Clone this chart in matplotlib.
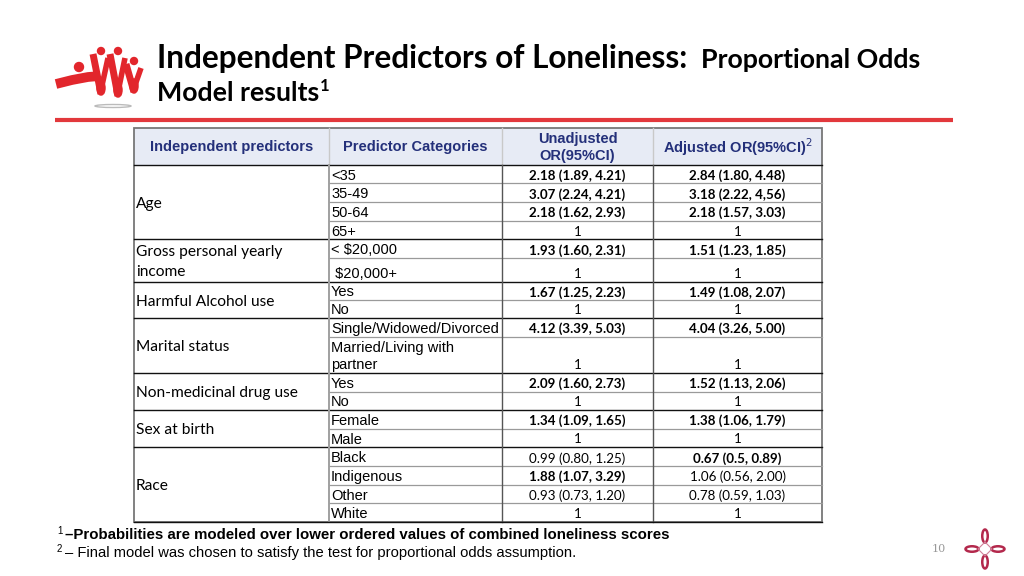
import numpy as np
import matplotlib
matplotlib.use("Agg")
from matplotlib import pyplot as plt
from matplotlib.patches import Rectangle, Ellipse, Circle

# ---- table data ----
header = ["Independent predictors", "Predictor Categories", "Unadjusted\nOR(95%CI)", "Adjusted OR(95%CI)$^2$"]

predictors = ["Age", "Gross personal yearly\nincome", "Harmful Alcohol use", "Marital status",
              "Non-medicinal drug use", "Sex at birth", "Race"]
group_sizes = [4, 2, 2, 2, 2, 2, 4]

categories = ["<35", "35-49", "50-64", "65+",
              "< $20,000", " $20,000+",
              "Yes", "No",
              "Single/Widowed/Divorced", "Married/Living with\npartner",
              "Yes", "No",
              "Female", "Male",
              "Black", "Indigenous", "Other", "White"]

unadjusted = ["2.18 (1.89, 4.21)", "3.07 (2.24, 4.21)", "2.18 (1.62, 2.93)", "1",
              "1.93 (1.60, 2.31)", "1",
              "1.67 (1.25, 2.23)", "1",
              "4.12 (3.39, 5.03)", "1",
              "2.09 (1.60, 2.73)", "1",
              "1.34 (1.09, 1.65)", "1",
              "0.99 (0.80, 1.25)", "1.88 (1.07, 3.29)", "0.93 (0.73, 1.20)", "1"]
unadj_sig = [1, 1, 1, 0, 1, 0, 1, 0, 1, 0, 1, 0, 1, 0, 0, 1, 0, 0]

adjusted = ["2.84 (1.80, 4.48)", "3.18 (2.22, 4,56)", "2.18 (1.57, 3.03)", "1",
            "1.51 (1.23, 1.85)", "1",
            "1.49 (1.08, 2.07)", "1",
            "4.04 (3.26, 5.00)", "1",
            "1.52 (1.13, 2.06)", "1",
            "1.38 (1.06, 1.79)", "1",
            "0.67 (0.5, 0.89)", "1.06 (0.56, 2.00)", "0.78 (0.59, 1.03)", "1"]
adj_sig = [1, 1, 1, 0, 1, 0, 1, 0, 1, 0, 1, 0, 1, 0, 1, 0, 0, 0]

# ---- layout (pixels) ----
col_x = [134, 329, 502, 653, 822]
top, head_bot = 128, 165
row_h = [18.3, 18.7, 18.7, 18.6, 18.7, 24.0, 18.0, 18.0, 18.7, 36.3,
         18.7, 18.3, 18.7, 18.5, 18.9, 18.7, 18.6, 18.6]
row_edges = head_bot + np.concatenate([[0], np.cumsum(row_h)])
bottom = row_edges[-1]
group_edges = np.concatenate([[0], np.cumsum(group_sizes)])

NAVY = "#24307a"
ARIAL = "Liberation Sans"
CAL = "Lato"

fig = plt.figure(figsize=(10.24, 5.76), dpi=100)
ax = fig.add_axes([0, 0, 1, 1])
ax.set_xlim(0, 1024)
ax.set_ylim(576, 0)
ax.axis("off")

# title
ax.text(157, 68, "Independent Predictors of Loneliness:", fontsize=22.7, fontweight="bold",
        family=CAL, va="baseline", ha="left")
ax.text(701, 68, "Proportional Odds", fontsize=19.3, fontweight="bold",
        family=CAL, va="baseline", ha="left")
ax.text(157, 101, "Model results", fontsize=19.3, fontweight="bold",
        family=CAL, va="baseline", ha="left")
ax.text(320, 91, "1", fontsize=12, fontweight="bold", family=CAL, va="baseline", ha="left")
ax.plot([55, 953], [120, 120], color="#e2383c", lw=3, solid_capstyle="butt")

# logo (rough ribbon figures)
red = "#e2262c"
ax.plot([56, 72, 88, 100], [84, 80, 77, 76], color=red, lw=7, solid_capstyle="butt")
ax.add_patch(Circle((79, 67), 4.5, color=red))
for cx, y0, y1 in [(100, 56, 94), (117, 56, 96), (133, 66, 92)]:
    ax.plot([cx - 7, cx + 1], [y0 - 2, y1], color=red, lw=5, solid_capstyle="butt")
    ax.plot([cx + 8, cx + 1], [y0 + 2, y1 - 4], color=red, lw=4, solid_capstyle="butt")
    ax.add_patch(Ellipse((cx + 1, y1 - 6), 6, 12, facecolor="none", edgecolor=red, lw=2.5))
    ax.add_patch(Circle((cx + 1, y0 - 5), 3.5, color=red))
ax.add_patch(Ellipse((113, 106), 36, 3, facecolor="none", edgecolor="#bbbbbb", lw=1))

# header
ax.add_patch(Rectangle((col_x[0], top), col_x[-1] - col_x[0], head_bot - top,
                       facecolor="#e7ebf5", edgecolor="none"))
for i, h in enumerate(header):
    ax.text((col_x[i] + col_x[i + 1]) / 2, (top + head_bot) / 2 + 1, h, ha="center", va="center",
            fontsize=10.5, fontweight="bold", color=NAVY, family=ARIAL, linespacing=1.25)
for x in col_x[1:-1]:
    ax.plot([x, x], [top, head_bot], color="#c9c9c9", lw=1)

# body rows
for r in range(len(categories)):
    y_bot = row_edges[r + 1]
    cat = categories[r]
    if "\n" in cat:
        ax.text(col_x[1] + 2, (row_edges[r] + y_bot) / 2 + 2, cat, ha="left", va="center",
                fontsize=10.5, family=ARIAL, linespacing=1.3)
    else:
        ax.text(col_x[1] + 2, y_bot - 7.6, cat, ha="left", va="center", fontsize=10.5, family=ARIAL)
    ax.text((col_x[2] + col_x[3]) / 2, y_bot - 7.8, unadjusted[r], ha="center", va="center",
            fontsize=9.6, family=CAL, fontweight="bold" if unadj_sig[r] else "normal")
    ax.text((col_x[3] + col_x[4]) / 2, y_bot - 7.8, adjusted[r], ha="center", va="center",
            fontsize=9.6, family=CAL, fontweight="bold" if adj_sig[r] else "normal")

# inner row lines
for r in range(1, len(categories)):
    if r in group_edges:
        continue
    ax.plot([col_x[1], col_x[-1]], [row_edges[r]] * 2, color="#9a9a9a", lw=0.9)

# predictors + group lines
for g, name in enumerate(predictors):
    y0, y1 = row_edges[group_edges[g]], row_edges[group_edges[g + 1]]
    ax.text(col_x[0] + 2, (y0 + y1) / 2 + 1.5, name, ha="left", va="center", fontsize=11.2,
            family=CAL, linespacing=1.6)
    ax.plot([col_x[0], col_x[-1]], [y0, y0], color="#111111", lw=1)

ax.plot([col_x[1], col_x[1]], [head_bot, bottom], color="#a0a0a0", lw=1.4)
ax.plot([col_x[2], col_x[2]], [head_bot, bottom], color="#555555", lw=1)
ax.plot([col_x[3], col_x[3]], [head_bot, bottom], color="#555555", lw=1)
ax.add_patch(Rectangle((col_x[0], top), col_x[-1] - col_x[0], bottom - top,
                       facecolor="none", edgecolor="#777777", lw=1.3))
ax.plot([col_x[0], col_x[-1]], [bottom, bottom], color="#111111", lw=1)

# footnotes
ax.text(57, 531, "1", fontsize=7, family=ARIAL, va="center")
ax.text(65, 535, "\u2013Probabilities are modeled over lower ordered values of combined loneliness scores",
        fontsize=10.8, fontweight="bold", family=ARIAL, va="center")
ax.text(57, 549, "2", fontsize=7, family=ARIAL, va="center")
ax.text(65, 553, "\u2013 Final model was chosen to satisfy the test for proportional odds assumption.",
        fontsize=10.65, family=ARIAL, va="center")

# page number + ornament
ax.text(939, 549, "10", fontsize=8, color="#999999", family="DejaVu Serif", ha="center", va="center")
orn = "#b3284c"
cx, cy = 985, 549
for dx, dy, w, h in [(0, -13, 5.5, 13), (0, 13, 5.5, 13), (-13, 0, 13, 5.5), (13, 0, 13, 5.5)]:
    ax.add_patch(Ellipse((cx + dx, cy + dy), w, h, facecolor="none", edgecolor=orn, lw=1.8))
ax.plot([cx, cx + 7, cx, cx - 7, cx], [cy - 7, cy, cy + 7, cy, cy - 7], color="#d08098", lw=0.8)

fig.savefig("out.png", dpi=100)
